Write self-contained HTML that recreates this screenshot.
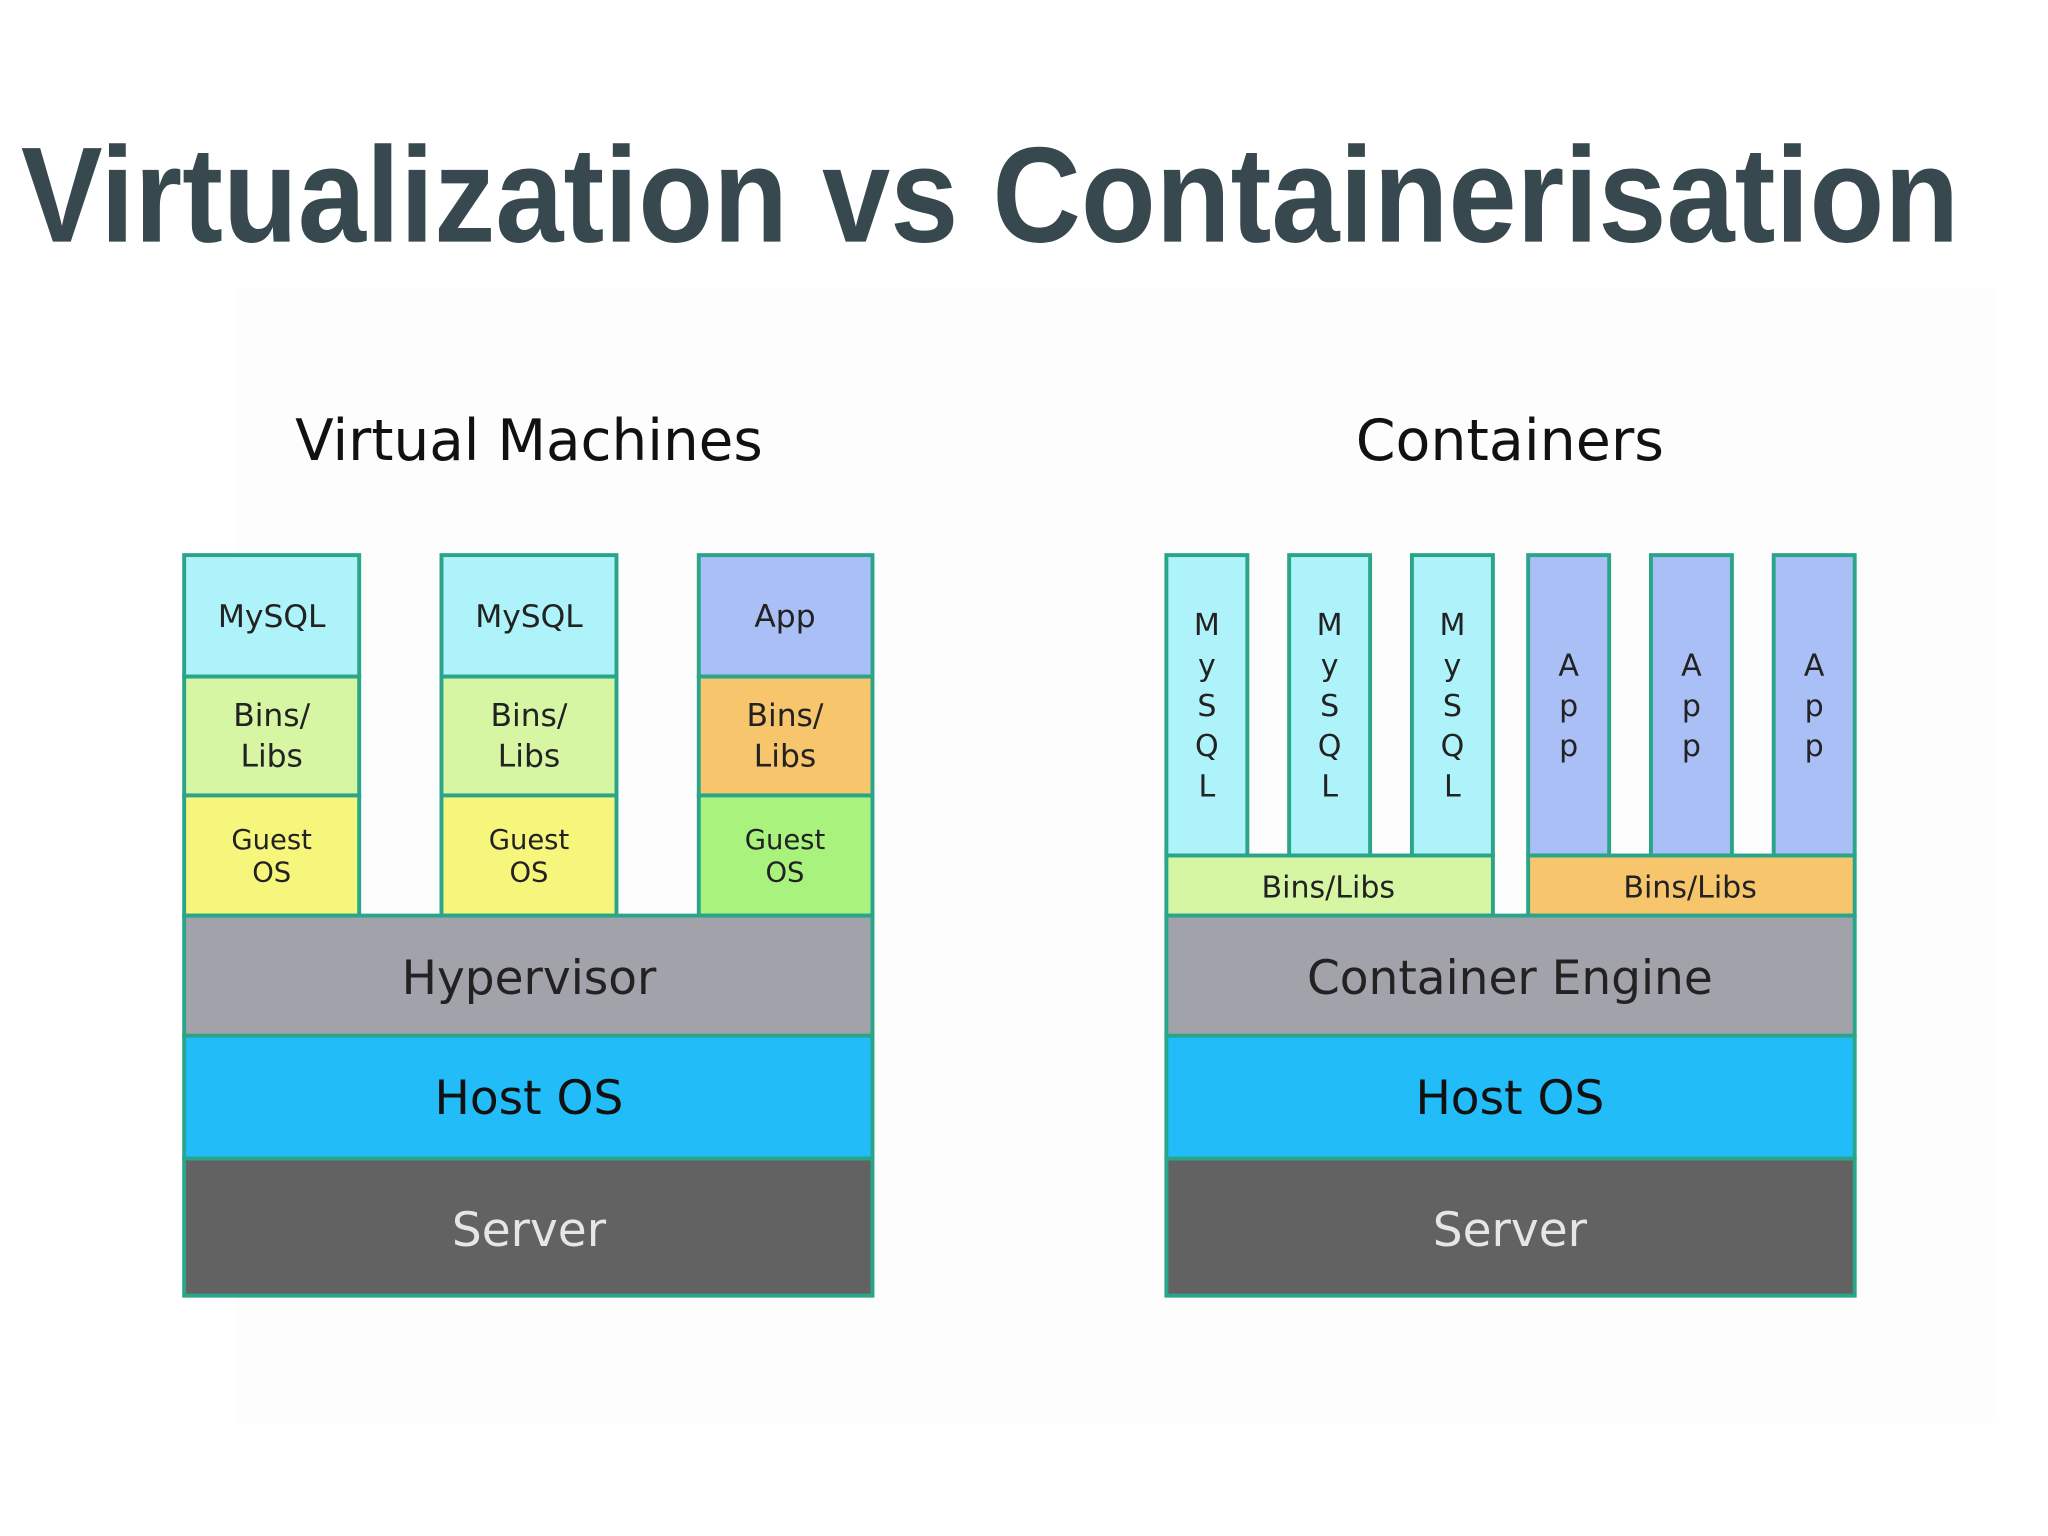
<!DOCTYPE html>
<html><head><meta charset="utf-8"><style>
html,body{margin:0;padding:0;background:#fff;}
svg{display:block;}
</style></head><body>
<svg width="2048" height="1536" viewBox="0 0 1568 1176" preserveAspectRatio="none" xmlns="http://www.w3.org/2000/svg">
<rect x="0" y="0" width="1568" height="1176" fill="#ffffff"/>
<rect x="180" y="220" width="1350" height="870" fill="#fdfdfd"/>
<text x="16" y="185" font-family="Liberation Sans, sans-serif" font-weight="bold" font-size="104" fill="#37494f" textLength="1484" lengthAdjust="spacingAndGlyphs">Virtualization vs Containerisation</text>
<g font-family="DejaVu Sans, sans-serif" text-anchor="middle">
<text x="405" y="352" font-size="44" fill="#111" textLength="358" lengthAdjust="spacingAndGlyphs">Virtual Machines</text>
<text x="1156" y="352" font-size="44" fill="#111" textLength="236" lengthAdjust="spacingAndGlyphs">Containers</text>
</g>
<g stroke="#2aa58a" stroke-width="3" font-family="DejaVu Sans, sans-serif" text-anchor="middle">
<rect x="141" y="425" width="134" height="93" fill="#aef2fa"/>
<rect x="141" y="518" width="134" height="91" fill="#d6f6a4"/>
<rect x="141" y="609" width="134" height="92" fill="#f6f67c"/>
<rect x="338" y="425" width="134" height="93" fill="#aef2fa"/>
<rect x="338" y="518" width="134" height="91" fill="#d6f6a4"/>
<rect x="338" y="609" width="134" height="92" fill="#f6f67c"/>
<rect x="535" y="425" width="133" height="93" fill="#aabff6"/>
<rect x="535" y="518" width="133" height="91" fill="#f7c56c"/>
<rect x="535" y="609" width="133" height="92" fill="#aaf27e"/>
<rect x="141" y="701" width="527" height="92" fill="#a2a2aa"/>
<rect x="141" y="793" width="527" height="94" fill="#22bdf8"/>
<rect x="141" y="887" width="527" height="105" fill="#626262"/>
<rect x="893" y="425" width="62" height="230" fill="#aef2fa"/>
<rect x="987" y="425" width="62" height="230" fill="#aef2fa"/>
<rect x="1081" y="425" width="62" height="230" fill="#aef2fa"/>
<rect x="1170" y="425" width="62" height="230" fill="#aabff6"/>
<rect x="1264" y="425" width="62" height="230" fill="#aabff6"/>
<rect x="1358" y="425" width="62" height="230" fill="#aabff6"/>
<rect x="893" y="655" width="250" height="46" fill="#d6f6a4"/>
<rect x="1170" y="655" width="250" height="46" fill="#f7c56c"/>
<rect x="893" y="701" width="527" height="92" fill="#a2a2aa"/>
<rect x="893" y="793" width="527" height="94" fill="#22bdf8"/>
<rect x="893" y="887" width="527" height="105" fill="#626262"/>
</g>
<g font-family="DejaVu Sans, sans-serif" text-anchor="middle" fill="#222">
<g font-size="24">
<text x="208" y="480">MySQL</text><text x="405" y="480">MySQL</text><text x="601" y="480">App</text>
<text x="208" y="556">Bins/</text><text x="208" y="587">Libs</text>
<text x="405" y="556">Bins/</text><text x="405" y="587">Libs</text>
<text x="601" y="556">Bins/</text><text x="601" y="587">Libs</text>
</g>
<g font-size="21">
<text x="208" y="650">Guest</text><text x="208" y="675">OS</text>
<text x="405" y="650">Guest</text><text x="405" y="675">OS</text>
<text x="601" y="650">Guest</text><text x="601" y="675">OS</text>
</g>
<g font-size="23">
<text x="1017" y="687">Bins/Libs</text><text x="1294" y="687">Bins/Libs</text>
</g>
<g font-size="23">
<text x="924" y="486">M</text><text x="924" y="517">y</text><text x="924" y="548">S</text><text x="924" y="579">Q</text><text x="924" y="610">L</text>
<text x="1018" y="486">M</text><text x="1018" y="517">y</text><text x="1018" y="548">S</text><text x="1018" y="579">Q</text><text x="1018" y="610">L</text>
<text x="1112" y="486">M</text><text x="1112" y="517">y</text><text x="1112" y="548">S</text><text x="1112" y="579">Q</text><text x="1112" y="610">L</text>
<text x="1201" y="517">A</text><text x="1201" y="548">p</text><text x="1201" y="579">p</text>
<text x="1295" y="517">A</text><text x="1295" y="548">p</text><text x="1295" y="579">p</text>
<text x="1389" y="517">A</text><text x="1389" y="548">p</text><text x="1389" y="579">p</text>
</g>
<g font-size="36">
<text x="405" y="761">Hypervisor</text>
<text x="1156" y="761">Container Engine</text>
<text x="405" y="853" fill="#111">Host OS</text>
<text x="1156" y="853" fill="#111">Host OS</text>
<text x="405" y="954" fill="#e6e6e6">Server</text>
<text x="1156" y="954" fill="#e6e6e6">Server</text>
</g>
</g>
</svg>
</body></html>
